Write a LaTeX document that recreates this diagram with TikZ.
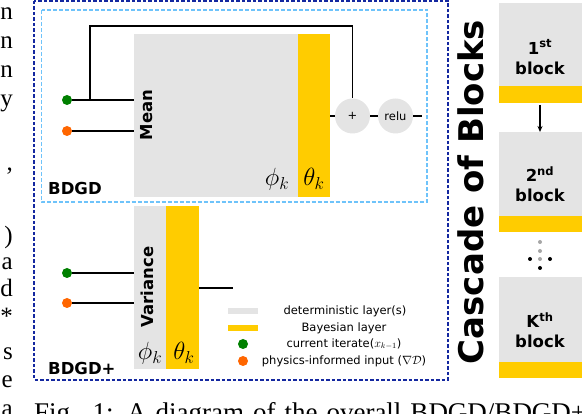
\documentclass[tikz,border=0pt]{standalone}
\usepackage{fontspec}
\setsansfont{DejaVu Sans}
\newfontfamily\capfont{Liberation Serif}
\usetikzlibrary{positioning, arrows.meta, calc}
\definecolor{layergray}{RGB}{228,228,228}
\definecolor{bayesyellow}{RGB}{255,204,0}
\definecolor{iterdot}{RGB}{0,128,0}
\definecolor{physdot}{RGB}{255,102,0}
\definecolor{outerblue}{RGB}{20,40,160}
\definecolor{innerblue}{RGB}{110,195,250}

\begin{document}
\begin{tikzpicture}[x=1pt, y=-1pt,
  lay/.style={inner sep=0pt, outer sep=0pt, anchor=north west},
  det/.style={lay, fill=layergray},
  bayes/.style={lay, fill=bayesyellow},
  dot/.style={circle, inner sep=0pt, minimum size=10pt},
  wire/.style={line width=1.8pt},
  op/.style={circle, fill=layergray, minimum size=35pt, inner sep=0pt,
             font=\sffamily\fontsize{11.5}{13}\selectfont},
  lbl/.style={font=\sffamily\bfseries\fontsize{16.5}{20}\selectfont, inner sep=0pt},
  leg/.style={font=\sffamily\fontsize{11.5}{13}\selectfont, inner sep=0pt},
  sym/.style={font=\fontsize{25}{27}\selectfont, inner sep=0pt, anchor=base},
  col/.style={font=\capfont\fontsize{25}{28}\selectfont, inner sep=0pt, anchor=base east},
  arr/.style={-{Stealth[length=6pt, width=5pt]}, line width=1.2pt}]
\useasboundingbox (0,0) rectangle (582,414);

% frames
\draw[outerblue, line width=1.2pt, dash pattern=on 3.5pt off 2pt] (34,1) rectangle (448,380);
\draw[innerblue, line width=1.5pt, dash pattern=on 4pt off 2pt] (41.5,10) rectangle (427,202);

% mean branch (BDGD)
\node[det, minimum width=164pt, minimum height=163pt] (mean) at (134,34) {};
\node[bayes, minimum width=32pt, minimum height=163pt] (meanb) at (298,34) {};
\node[lbl, rotate=90] (meanlbl) at (147,115) {Mean};
\node[sym] (phi1) at (277,186) {$\phi_k$};
\node[sym] (theta1) at (314,186) {$\theta_k$};
\node[lbl, anchor=base west] (bdgd) at (48,195) {BDGD};

\node[dot, fill=iterdot] (x1) at (67,100) {};
\node[dot, fill=physdot] (g1) at (67,131) {};
\coordinate (split) at (90,100);
\node[op] (plus) at (352.5,116) {+};
\node[op] (relu) at (395.5,116) {relu};
\coordinate (out1) at (422,116);

\draw[wire] (x1) -- (x1 -| mean.west);
\draw[wire] (g1) -- (g1 -| mean.west);
\draw[wire] (split) -- ++(0,-74) -| (plus.north);
\draw[wire] (plus.west -| meanb.east) -- (plus.west);
\draw[wire] (plus) -- (relu);
\draw[wire] (relu.east) -- (out1);

% variance branch (BDGD+)
\node[det, minimum width=32pt, minimum height=163pt] (var) at (134,206) {};
\node[bayes, minimum width=33pt, minimum height=163pt] (varb) at (166,206) {};
\node[lbl, rotate=90] (varlbl) at (147,287) {Variance};
\node[sym] (phi2) at (150,360) {$\phi_k$};
\node[sym] (theta2) at (184,360) {$\theta_k$};
\node[lbl, anchor=base west] (bdgdp) at (48,375) {BDGD+};

\node[dot, fill=iterdot] (x2) at (67,273) {};
\node[dot, fill=physdot] (g2) at (67,303) {};
\coordinate (out2) at (233,288);

\draw[wire] (x2) -- (x2 -| var.west);
\draw[wire] (g2) -- (g2 -| var.west);
\draw[wire] (out2 -| varb.east) -- (out2);

% legend
\node[det, anchor=center, minimum width=30pt, minimum height=6pt] (legdet) at (243,311) {};
\node[bayes, anchor=center, minimum width=30pt, minimum height=6pt] (legbay) at (243,328) {};
\node[dot, fill=iterdot] (legx) at (243,344) {};
\node[dot, fill=physdot] (legg) at (243,361) {};
\node[leg] (tdet) at (345,311) {deterministic layer(s)};
\node[leg] (tbay) at (344,328) {Bayesian layer};
\node[leg] (tx) at (344,344) {current iterate($x_{k-1}$)};
\node[leg] (tg) at (344,361) {physics-informed input ($\nabla\mathcal{D}$)};

% cascade
\node[font=\sffamily\bfseries\fontsize{34}{36}\selectfont, inner sep=0pt, rotate=90] (casc) at (471,192) {Cascade of Blocks};

\node[det, minimum width=83pt, minimum height=83pt] (blk1) at (499,3) {};
\node[bayes, minimum width=83pt, minimum height=17pt] (blk1b) at (499,86) {};
\node[det, minimum width=83pt, minimum height=84pt] (blk2) at (499,132) {};
\node[bayes, minimum width=83pt, minimum height=16pt] (blk2b) at (499,216) {};
\node[det, minimum width=83pt, minimum height=85pt] (blkk) at (499,277) {};
\node[bayes, minimum width=83pt, minimum height=16pt] (blkkb) at (499,362) {};
\node[lbl, align=center] (t1) at (540,57) {1\textsuperscript{st}\\block};
\node[lbl, align=center] (t2) at (540,184) {2\textsuperscript{nd}\\block};
\node[lbl, align=center] (tk) at (540,330) {K\textsuperscript{th}\\block};
\draw[arr] (blk1b.south -| t1) ++(0,2) coordinate (a1) (a1) -- (blk2.north -| t1);

\fill[gray!70] (540,242) circle (2pt) (540,251) circle (2pt) (540,259) circle (2pt);
\fill[black] (530,259) circle (2pt) (550,259) circle (2pt) (540,268) circle (2pt);

% surrounding page text
\node[col] (c1) at (13,20) {n};
\node[col] (c2) at (13,49) {n};
\node[col] (c3) at (13,78) {n};
\node[col] (c4) at (13,107) {y};
\node[col] (c5) at (13,171) {,};
\node[col] (c6) at (13,244) {)};
\node[col] (c7) at (13,270) {a};
\node[col] (c8) at (13,297) {d};
\node[col] (c9) at (13,325) {*};
\node[col] (c10) at (13,360) {s};
\node[col] (c11) at (13,388) {e};
\node[col] (c12) at (13,417) {a};
\node[font=\capfont\fontsize{27}{29}\selectfont, inner sep=0pt, anchor=base west] (cap) at (34,422)
  {\makebox[552pt][s]{Fig. 1: A diagram of the overall BDGD/BDGD+}};
\end{tikzpicture}
\end{document}
